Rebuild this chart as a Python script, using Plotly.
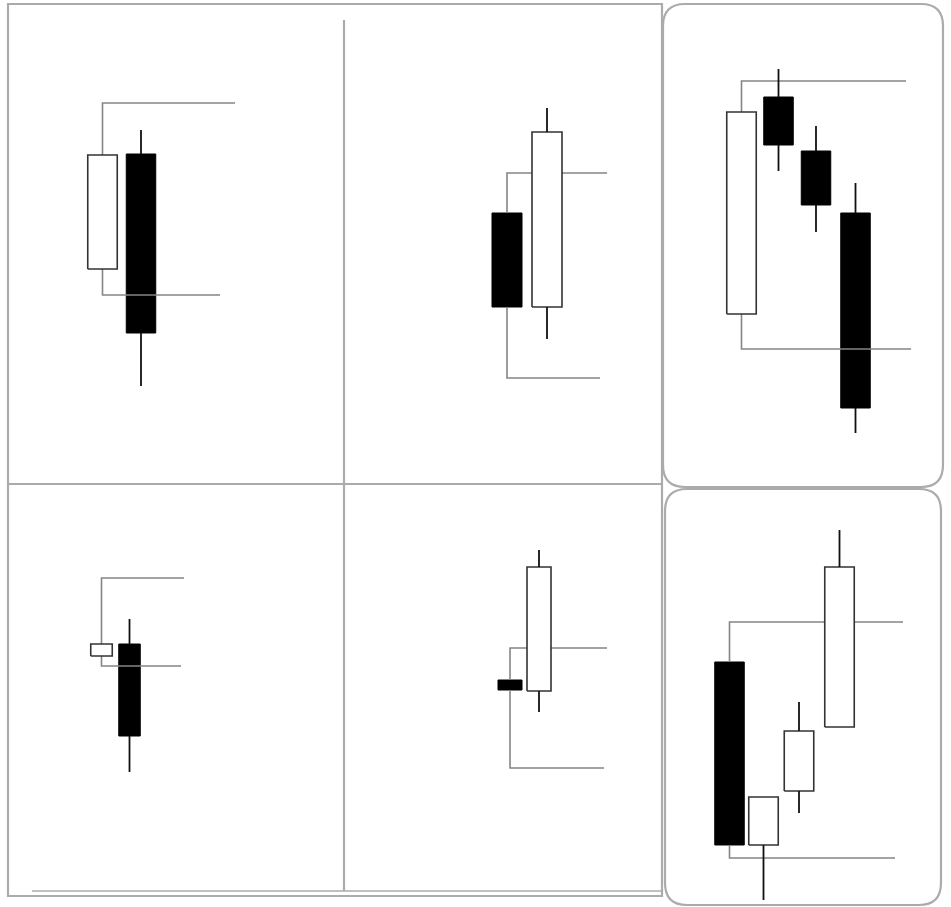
import plotly.graph_objects as go

# candle data: panel, x position, open / high / low / close (price units, up = higher)
candle_panel = ['tl', 'tl', 'tm', 'tm', 'tr', 'tr', 'tr', 'tr',
                'bl', 'bl', 'bm', 'bm', 'br', 'br', 'br', 'br']
candle_x = [102.5, 141, 507, 547, 741.5, 778.5, 816, 855.5,
            101.5, 129.5, 510, 539, 729.5, 763.5, 799, 839.5]
candle_open = [638, 753, 694, 600, 593, 810, 756, 694,
               251, 263, 227, 216, 245, 62, 116, 180]
candle_high = [804, 777, 734, 799, 826, 838, 781, 724,
               329, 288, 259, 357, 285, 110, 205, 377]
candle_low = [612, 521, 529, 568, 558, 736, 675, 474,
              241, 135, 139, 195, 49, 7, 94, 180]
candle_close = [752, 574, 600, 775, 795, 762, 702, 499,
                263, 171, 217, 340, 62, 110, 176, 340]

# where the reference level lines (first candle's high / low) stop on the right
panels = ['tl', 'tm', 'tr', 'bl', 'bm', 'br']
level_end_high = [235, 607, 906, 184, 607, 903]
level_end_low = [220, 600, 911, 181, 604, 895]

# body width per panel
body_width = {'tl': 29.5, 'tm': 30, 'tr': 29.5, 'bl': 21.5, 'bm': 24, 'br': 29.5}

W, H = 951, 907
FRAME = '#ababab'
LEVEL = '#858585'

fig = go.Figure()


def rects(idx):
    xs, ys = [], []
    for i in idx:
        w = body_width[candle_panel[i]] / 2
        lo = min(candle_open[i], candle_close[i])
        hi = max(candle_open[i], candle_close[i])
        x = candle_x[i]
        xs += [x - w, x + w, x + w, x - w, x - w, None]
        ys += [lo, lo, hi, hi, lo, None]
    return xs, ys


black = [i for i in range(len(candle_x)) if candle_close[i] < candle_open[i]]
white = [i for i in range(len(candle_x)) if candle_close[i] >= candle_open[i]]

# black bodies
bx, by = rects(black)
fig.add_trace(go.Scatter(x=bx, y=by, mode='lines', fill='toself', fillcolor='black',
                         line=dict(color='black', width=1), hoverinfo='skip'))

# level brackets from the first candle of each panel
lx, ly = [], []
for p, eh, el in zip(panels, level_end_high, level_end_low):
    i = candle_panel.index(p)
    top = max(candle_open[i], candle_close[i])
    bot = min(candle_open[i], candle_close[i])
    x = candle_x[i]
    lx += [x, x, eh, None, x, x, el, None]
    ly += [top, candle_high[i], candle_high[i], None, bot, candle_low[i], candle_low[i], None]
fig.add_trace(go.Scatter(x=lx, y=ly, mode='lines', line=dict(color=LEVEL, width=1.6),
                         hoverinfo='skip'))

# white bodies
wx, wy = rects(white)
fig.add_trace(go.Scatter(x=wx, y=wy, mode='lines', fill='toself', fillcolor='white',
                         line=dict(color='#333333', width=1.6), hoverinfo='skip'))

# wicks for the other candles
firsts = {candle_panel.index(p) for p in panels}
kx, ky = [], []
for i in range(len(candle_x)):
    if i in firsts:
        continue
    top = max(candle_open[i], candle_close[i])
    bot = min(candle_open[i], candle_close[i])
    if candle_high[i] > top:
        kx += [candle_x[i], candle_x[i], None]
        ky += [top, candle_high[i], None]
    if candle_low[i] < bot:
        kx += [candle_x[i], candle_x[i], None]
        ky += [bot, candle_low[i], None]
fig.add_trace(go.Scatter(x=kx, y=ky, mode='lines', line=dict(color='#111111', width=1.8),
                         hoverinfo='skip'))


def rounded(x0, y0, x1, y1, r):
    return (f'M {x0 + r},{y1} L {x1 - r},{y1} Q {x1},{y1} {x1},{y1 - r} '
            f'L {x1},{y0 + r} Q {x1},{y0} {x1 - r},{y0} L {x0 + r},{y0} '
            f'Q {x0},{y0} {x0},{y0 + r} L {x0},{y1 - r} Q {x0},{y1} {x0 + r},{y1} Z')


frame_line = dict(color=FRAME, width=2.2)
shapes = [
    # left 2x2 frame
    dict(type='rect', x0=8, x1=662, y0=H - 896, y1=H - 4, line=frame_line),
    dict(type='line', x0=32, x1=662, y0=H - 891, y1=H - 891, line=dict(color=FRAME, width=1.5)),
    dict(type='line', x0=344, x1=344, y0=H - 891, y1=H - 20, line=frame_line),
    dict(type='line', x0=8, x1=662, y0=H - 484, y1=H - 484, line=frame_line),
    # rounded frames on the right
    dict(type='path', path=rounded(663, H - 487, 943, H - 4, 22), line=frame_line),
    dict(type='path', path=rounded(665, H - 905, 941, H - 489, 22), line=frame_line),
]
for s in shapes:
    s.update(xref='x', yref='y', layer='below')

fig.update_layout(
    width=W, height=H, autosize=False,
    margin=dict(l=0, r=0, t=0, b=0),
    paper_bgcolor='white', plot_bgcolor='white',
    showlegend=False,
    shapes=shapes,
    xaxis=dict(range=[0, W], visible=False, fixedrange=True),
    yaxis=dict(range=[0, H], visible=False, fixedrange=True),
)

fig.write_html('out.html', post_script="document.body.style.margin='0';",
               config={'displayModeBar': False})
